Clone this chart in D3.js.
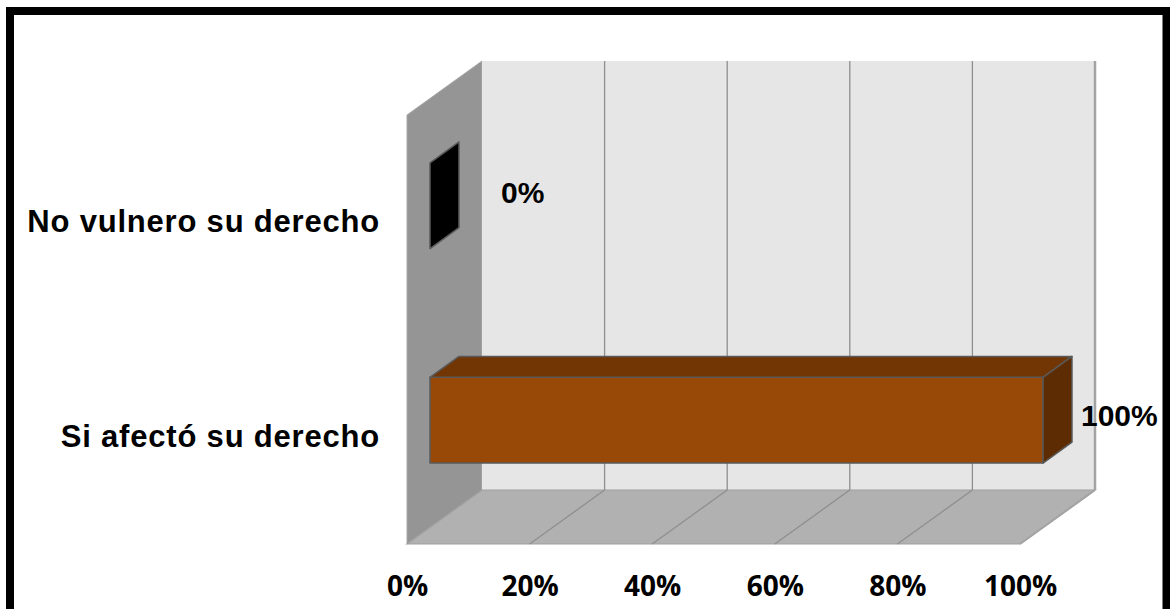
<!DOCTYPE html>
<html>
<head>
<meta charset="utf-8">
<script src="https://cdn.jsdelivr.net/npm/d3@7"></script>
<style>
  html, body { margin: 0; padding: 0; background: #ffffff; }
  svg { display: block; }
</style>
</head>
<body>
<svg id="chart" width="1170" height="609"></svg>
<script>
// Categories (top to bottom) and their shares
const categories = ["No vulnero su derecho", "Si afectó su derecho"];
const values = [0, 1];
const barColors = ["#000000", "#984807"];
const tickValues = [0, 0.2, 0.4, 0.6, 0.8, 1];

const svg = d3.select("#chart");

// Plot geometry: front plane of the 3D box plus the depth offset of the walls
const front = { left: 407, right: 1020, top: 115, bottom: 544 };
const depth = { dx: 75, dy: 54 };
const barDepth = [0.307, 0.693];   // bar occupies the middle of the depth

const x = d3.scaleLinear().domain([0, 1]).range([front.left, front.right]);
const y = d3.scaleBand().domain(categories).range([front.top, front.bottom])
  .paddingInner(0.6).paddingOuter(0.3);

// project a point (value, y on front plane, depth fraction) to screen
const P = (v, yy, d) => [x(v) + depth.dx * d, yy - depth.dy * d];
const poly = pts => "M" + pts.map(p => p.join(",")).join("L") + "Z";

// outer frame
svg.append("rect")
  .attr("x", 10).attr("y", 11).attr("width", 1156.5).attr("height", 640)
  .attr("fill", "#ffffff").attr("stroke", "#000000").attr("stroke-width", 8);

// left wall
svg.append("path")
  .attr("d", poly([P(0, front.top, 0), P(0, front.top, 1), P(0, front.bottom, 1), P(0, front.bottom, 0)]))
  .attr("fill", "#959595").attr("stroke", "#a8a8a8").attr("stroke-width", 1);

// back wall
svg.append("path")
  .attr("d", poly([P(0, front.top, 1), P(1, front.top, 1), P(1, front.bottom, 1), P(0, front.bottom, 1)]))
  .attr("fill", "#e6e6e6");

// floor
svg.append("path")
  .attr("d", poly([P(0, front.bottom, 0), P(0, front.bottom, 1), P(1, front.bottom, 1), P(1, front.bottom, 0)]))
  .attr("fill", "#b1b1b1").attr("stroke", "#a0a0a0").attr("stroke-width", 1.2);

// gridlines on back wall and floor
const grid = svg.append("g").attr("fill", "none");
tickValues.filter(v => v > 0).forEach(v => {
  const last = v === 1;
  grid.append("path")
    .attr("d", "M" + P(v, front.top, 1).join(",") + "L" + P(v, front.bottom, 1).join(","))
    .attr("stroke", last ? "#a3a3a3" : "#8f8f8f").attr("stroke-width", last ? 2.5 : 1.3);
  grid.append("path")
    .attr("d", "M" + P(v, front.bottom, 0).join(",") + "L" + P(v, front.bottom, 1).join(","))
    .attr("stroke", last ? "#a3a3a3" : "#8f8f8f").attr("stroke-width", last ? 2 : 1.3);
});

// bars
const [d0, d1] = barDepth;
const bars = svg.append("g");
categories.forEach((c, i) => {
  const v = values[i];
  const yt = y(c), yb = y(c) + y.bandwidth();
  const col = d3.color(barColors[i]);
  const g = bars.append("g").attr("stroke", "#595959").attr("stroke-width", 1.5)
    .attr("stroke-linejoin", "round");
  if (v > 0) {
    // front face
    g.append("path").attr("d", poly([P(0, yt, d0), P(v, yt, d0), P(v, yb, d0), P(0, yb, d0)]))
      .attr("fill", col.formatHex());
    // top face
    g.append("path").attr("d", poly([P(0, yt, d0), P(v, yt, d0), P(v, yt, d1), P(0, yt, d1)]))
      .attr("fill", "#723604");
  }
  // end face
  g.append("path").attr("d", poly([P(v, yt, d0), P(v, yt, d1), P(v, yb, d1), P(v, yb, d0)]))
    .attr("fill", v > 0 ? "#5e2c02" : col.formatHex());
});

// data labels
const fmt = d3.format(".0%");
categories.forEach((c, i) => {
  const v = values[i];
  const endX = x(v) + depth.dx * d1;
  const midY = y(c) + y.bandwidth() / 2 - depth.dy * (d0 + d1) / 2;
  svg.append("text")
    .attr("x", endX + (v === 0 ? 42 : 9))
    .attr("y", midY + (v === 0 ? -3 : 6))
    .attr("dy", "0.35em")
    .attr("font-family", "'Liberation Sans', Arial, sans-serif")
    .attr("font-weight", "bold").attr("font-size", 30)
    .attr("fill", "#000000")
    .text(fmt(v));
});

// category axis labels
const yAxis = svg.append("g").attr("transform", "translate(380,0)")
  .call(d3.axisLeft(y).tickSize(0).tickPadding(0));
yAxis.select(".domain").remove();
yAxis.selectAll("text")
  .attr("font-family", "'Liberation Sans', Arial, sans-serif")
  .attr("font-weight", "bold").attr("font-size", 31)
  .attr("letter-spacing", "0.8px")
  .attr("fill", "#000000");

// value axis labels along the front edge of the floor
const xAxis = svg.append("g").attr("transform", `translate(0,${front.bottom})`)
  .call(d3.axisBottom(x).tickValues(tickValues).tickFormat(fmt).tickSize(0).tickPadding(0));
xAxis.select(".domain").remove();
xAxis.selectAll("text")
  .attr("y", 52).attr("dy", 0)
  .attr("font-family", "'Open Sans', sans-serif")
  .attr("font-weight", "bold").attr("font-size", 28)
  .attr("fill", "#000000");
</script>
</body>
</html>
